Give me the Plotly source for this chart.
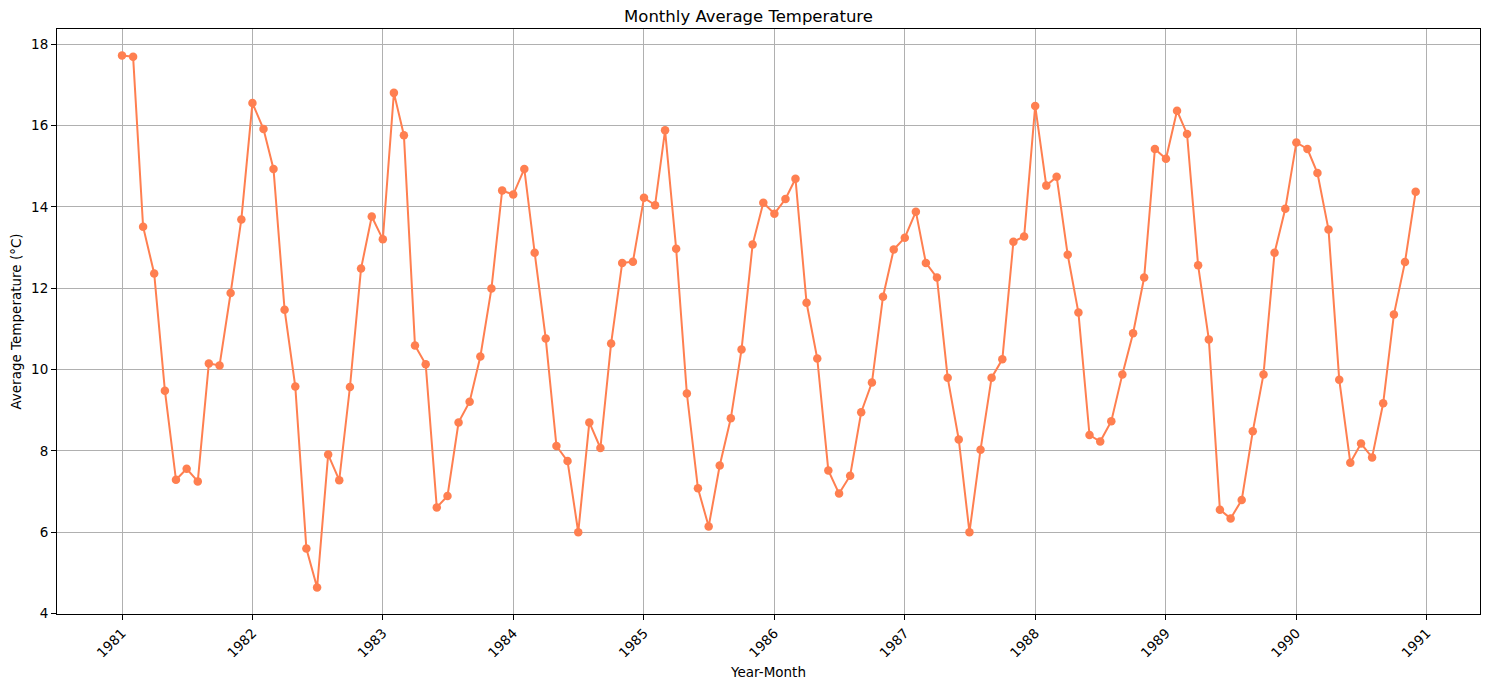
import plotly.graph_objects as go
import pandas as pd

months = pd.date_range("1981-01-01", "1990-12-01", freq="MS").strftime("%Y-%m-%d").tolist()

temps = [
    17.72, 17.69, 13.51, 12.36, 9.48, 7.29, 7.56, 7.25, 10.15, 10.10, 11.88, 13.69,
    16.55, 15.91, 14.93, 11.47, 9.58, 5.60, 4.64, 7.91, 7.28, 9.57, 12.48, 13.76,
    13.20, 16.80, 15.76, 10.59, 10.13, 6.61, 6.89, 8.70, 9.21, 10.32, 11.99, 14.40,
    14.30, 14.93, 12.87, 10.76, 8.12, 7.75, 6.00, 8.70, 8.07, 10.64, 12.62, 12.65,
    14.22, 14.04, 15.88, 12.97, 9.41, 7.08, 6.14, 7.64, 8.80, 10.49, 13.07, 14.10,
    13.83, 14.19, 14.69, 11.64, 10.27, 7.52, 6.95, 7.39, 8.95, 9.68, 11.79, 12.95,
    13.24, 13.88, 12.62, 12.26, 9.80, 8.28, 6.00, 8.03, 9.80, 10.25, 13.14, 13.27,
    16.48, 14.52, 14.74, 12.82, 11.40, 8.39, 8.23, 8.73, 9.88, 10.89, 12.26, 15.42,
    15.18, 16.36, 15.79, 12.56, 10.74, 6.55, 6.34, 6.79, 8.48, 9.88, 12.87, 13.95,
    15.58, 15.42, 14.83, 13.44, 9.75, 7.71, 8.18, 7.84, 9.17, 11.35, 12.64, 14.37,
]

title = "Monthly Average Temperature"
x_label = "Year-Month"
y_label = "Average Temperature (°C)"

fig = go.Figure(
    go.Scatter(
        x=months, y=temps, mode="lines+markers",
        line=dict(color="#FF7F50", width=2),
        marker=dict(color="#FF7F50", size=8.5),
    )
)

axis_common = dict(
    showline=True, linecolor="black", linewidth=1.1, mirror=True,
    ticks="outside", ticklen=5, tickwidth=1.1, tickcolor="black",
    showgrid=True, gridcolor="#b0b0b0", gridwidth=1.1,
    zeroline=False, automargin=False,
    tickfont=dict(family="DejaVu Sans", size=13.5, color="black"),
)

fig.update_layout(
    width=1481, height=681,
    margin=dict(l=49, r=9, t=21, b=75),
    paper_bgcolor="white", plot_bgcolor="white",
    showlegend=False,
    title=dict(text=title, x=0.5, xanchor="center", y=0.988, yanchor="middle",
               font=dict(family="DejaVu Sans", size=16.5, color="black")),
    xaxis=dict(
        axis_common,
        type="date", range=["1980-07-03", "1991-05-30"],
        dtick="M12", tick0="1981-01-01", tickformat="%Y", tickangle=-45,
        title=dict(text=x_label, standoff=7,
                   font=dict(family="DejaVu Sans", size=13.5, color="black")),
    ),
    yaxis=dict(
        axis_common,
        range=[3.99, 18.37], dtick=2, tick0=0,
        title=dict(text=y_label, standoff=8,
                   font=dict(family="DejaVu Sans", size=13.5, color="black")),
    ),
)

fig.write_html("out.html")
